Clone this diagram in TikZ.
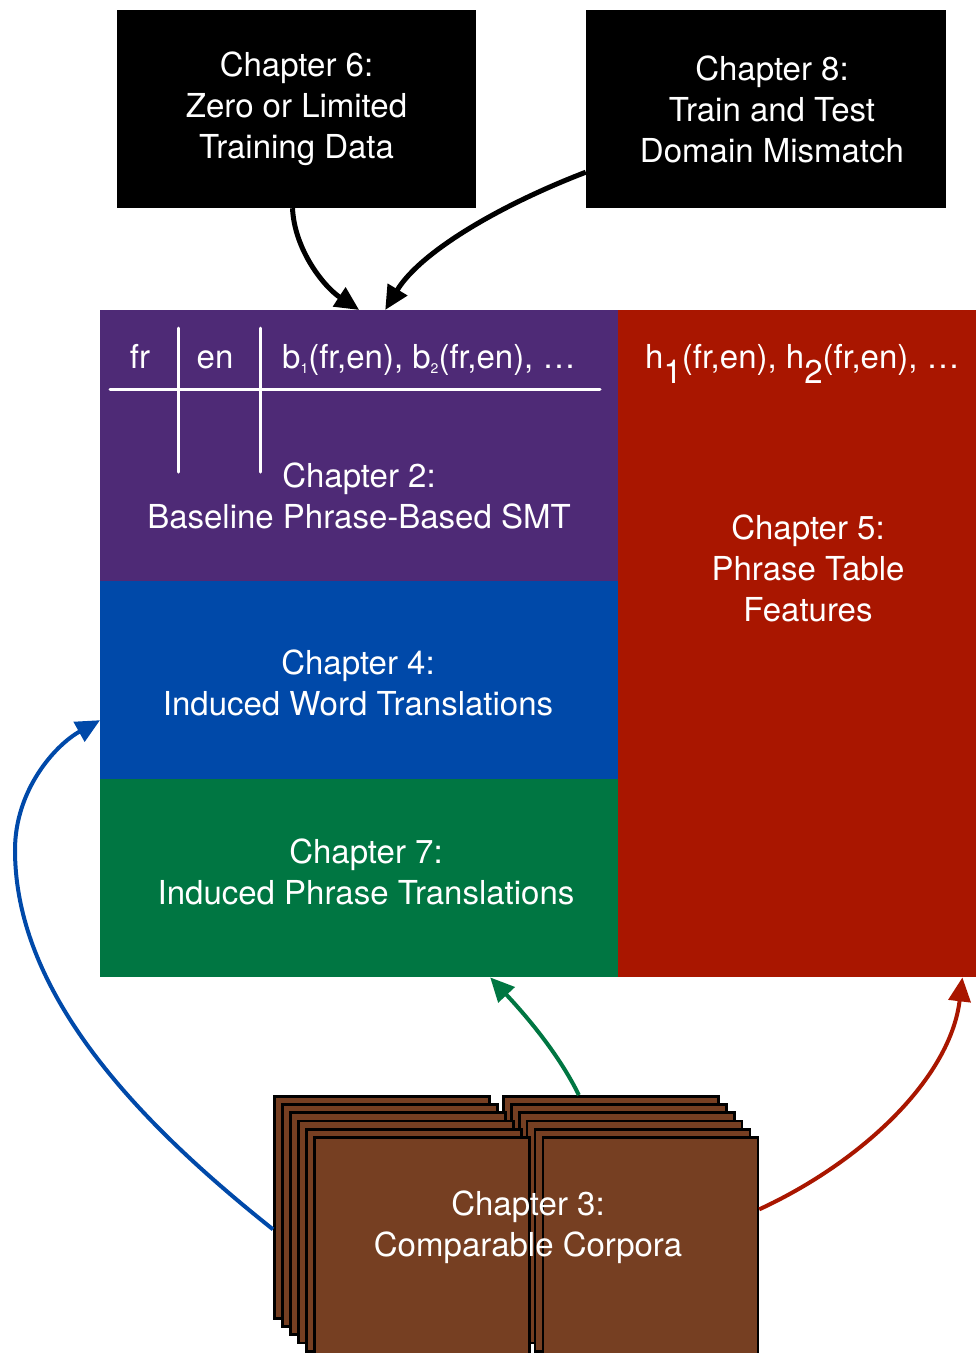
\documentclass[tikz,border=0pt]{standalone}
\usepackage{fontspec}
\setmainfont{TeX Gyre Heros}
\usetikzlibrary{positioning,arrows.meta,calc}

\definecolor{chpurple}{RGB}{78,42,118}
\definecolor{chblue}{RGB}{0,73,169}
\definecolor{chgreen}{RGB}{0,118,66}
\definecolor{chred}{RGB}{169,22,0}
\definecolor{corpbrown}{RGB}{118,63,34}

\newcommand\chapfont{\fontsize{33}{41}\selectfont}
\newcommand\bsub[1]{\raisebox{-5pt}{\fontsize{14}{14}\selectfont #1}}
\newcommand\hsub[1]{\raisebox{-15pt}{#1}}

\tikzset{
    block/.style={rectangle, inner sep=0pt, text=white, align=center, font=\chapfont},
    blocktext/.style={text=white, align=center, font=\chapfont, inner sep=0pt},
    cell/.style={text=white, font=\chapfont, inner sep=0pt, anchor=base},
    tableline/.style={white, line width=3pt, line cap=round},
    sheet/.style={draw=black, line width=2.7pt, fill=corpbrown, anchor=north west,
        minimum width=215pt, minimum height=222pt, inner sep=0pt},
    feed/.style={line width=4pt, -{Triangle[length=24pt,width=22pt]}},
}

\begin{document}
\begin{tikzpicture}[x=1pt, y=-1pt]
\useasboundingbox (0,0) rectangle (976,1353);

% problems on top
\node[block, fill=black, minimum width=359pt, minimum height=198pt] (ch6) at (296.5,109)
    {Chapter 6:\\Zero or Limited\\Training Data};
\node[block, fill=black, minimum width=360pt, minimum height=198pt] (ch8) at (766,109) {};
\node[blocktext] (ch8txt) at (772,109) {Chapter 8:\\Train and Test\\Domain Mismatch};

% the phrase table
\node[block, fill=chpurple, minimum width=518pt, minimum height=271pt, anchor=north west] (ch2) at (100,310) {};
\node[block, fill=chblue, minimum width=518pt, minimum height=198pt, anchor=north west] (ch4) at (100,581) {};
\node[block, fill=chgreen, minimum width=518pt, minimum height=198pt, anchor=north west] (ch7) at (100,779) {};
\node[block, fill=chred, minimum width=358pt, minimum height=667pt, anchor=north west] (ch5) at (618,310) {};

\draw[tableline] (110,389) -- (600,389);
\draw[tableline] (178,328) -- (178,472);
\draw[tableline] (260,328) -- (260,472);
\node[cell] (fr) at (140,368) {fr};
\node[cell] (en) at (215,368) {en};
\node[cell, anchor=base west] (bfeat) at (282,368) {b\bsub{1}(fr,en), b\bsub{2}(fr,en), …};
\node[cell, anchor=base west] (hfeat) at (645,368) {h\hsub{1}(fr,en), h\hsub{2}(fr,en), …};

\node[blocktext] (ch2txt) at (359,496) {Chapter 2:\\Baseline Phrase-Based SMT};
\node[blocktext] (ch4txt) at (358,682.5) {Chapter 4:\\Induced Word Translations};
\node[blocktext] (ch7txt) at (366,872) {Chapter 7:\\Induced Phrase Translations};
\node[blocktext] (ch5txt) at (808,568.5) {Chapter 5:\\Phrase Table\\Features};

% comparable corpora
\foreach \i in {0,...,5}
    \node[sheet] (rsheet\i) at ({502+7.9*\i},{1095+8.2*\i}) {};
\foreach \i in {0,...,5}
    \node[sheet] (lsheet\i) at ({273+8*\i},{1095+8.2*\i}) {};
\node[blocktext] (ch3txt) at (528,1227) {Chapter 3:\\Comparable Corpora};

% what feeds what
\draw[feed, line width=5pt] ([xshift=-4pt]ch6.south) .. controls +(2,42) and +(-35,-23) .. (ch2.north);
\draw[feed, line width=5pt] ([yshift=36pt]ch8.south west) .. controls +(-86,33) and +(35,-58) .. ([xshift=26pt]ch2.north);
\coordinate (lbend) at (15,850);
\draw[feed, chblue] ([yshift=-22pt]lsheet0.west) .. controls +(-123,-98) and +(0,150) .. (lbend)
    .. controls +(0,-60) and +(-45,25) .. ([yshift=-40pt]ch4.west);
\draw[feed, chgreen] ([xshift=-32pt]rsheet0.north) .. controls +(-22,-45) and +(30,32) .. ([xshift=131pt]ch7.south);
\draw[feed, chred] ([yshift=39pt]rsheet5.east) .. controls +(104,-48) and +(-12,100) .. ([xshift=-14pt]ch5.south east);

\end{tikzpicture}
\end{document}
